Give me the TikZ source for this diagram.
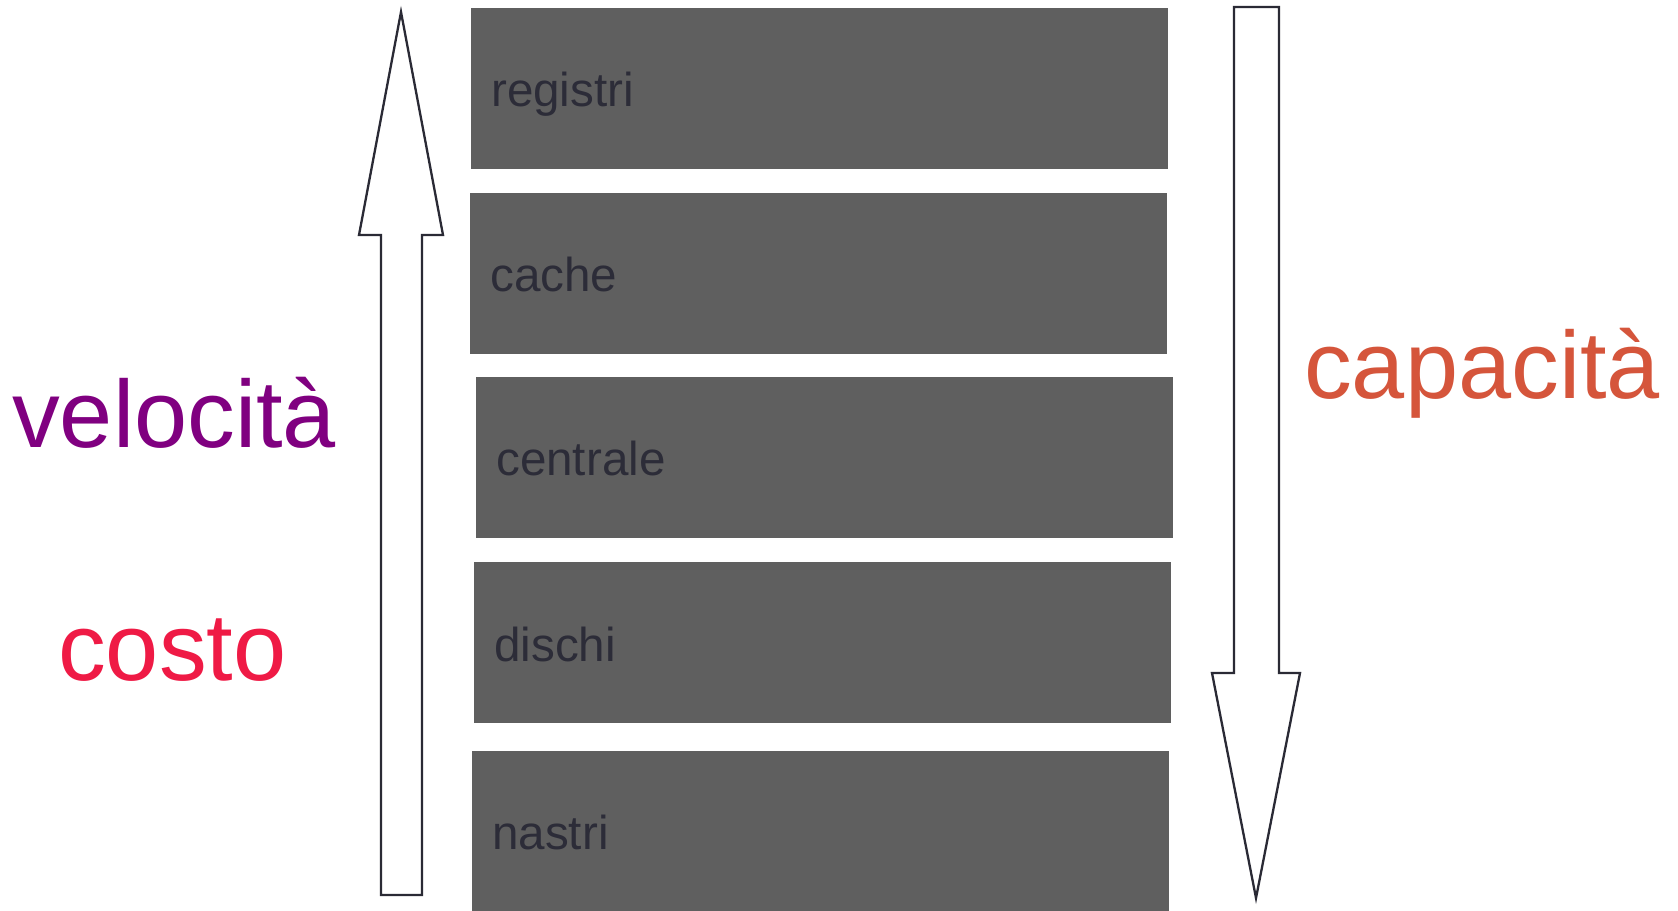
\documentclass[tikz,border=0pt]{standalone}
\usepackage{fontspec}
\setmainfont{Liberation Sans}
\usetikzlibrary{calc}
\definecolor{boxgray}{HTML}{5F5F5F}
\definecolor{boxtext}{HTML}{2C2C38}
\definecolor{arrowline}{HTML}{2A2A35}
\definecolor{velcol}{HTML}{800080}
\definecolor{costcol}{HTML}{EF1A45}
\definecolor{capcol}{HTML}{D5553B}
\tikzset{
  memblock/.style={fill=boxgray, draw=none, anchor=north west, inner sep=0pt,
    minimum width=697pt, minimum height=161pt},
  memlabel/.style={anchor=base west, inner sep=0pt, text=boxtext,
    font=\fontsize{47.6}{56}\selectfont},
  sidelabel/.style={anchor=base west, inner sep=0pt,
    font=\fontsize{95.5}{112}\selectfont},
  bigarrow/.style={draw=arrowline, line width=2.3pt, fill=white, line join=miter}
}
\begin{document}
\begin{tikzpicture}[x=1pt,y=-1pt]
\useasboundingbox (0,0) rectangle (1678,910);
\clip (0,0) rectangle (1678,910);
\fill[white] (0,0) rectangle (1678,910);
% memory blocks
\node[memblock] (reg) at (471,8) {};
\node[memblock] (cache) at (470,193) {};
\node[memblock] (cent) at (476,377) {};
\node[memblock] (disc) at (474,562) {};
\node[memblock, minimum height=170pt] (nast) at (472,751) {};
% labels
\node[memlabel] (lreg) at ($(reg.north west)+(20,98)$) {registri};
\node[memlabel] (lcache) at ($(cache.north west)+(20,98)$) {cache};
\node[memlabel] (lcent) at ($(cent.north west)+(20,98)$) {centrale};
\node[memlabel] (ldisc) at ($(disc.north west)+(20,99)$) {dischi};
\node[memlabel] (lnast) at ($(nast.north west)+(20,98)$) {nastri};
% up arrow
\draw[bigarrow] (401,12) -- (443,235) -- (422,235) -- (422,895) -- (381,895)
  -- (381,235) -- (359,235) -- cycle;
% down arrow
\draw[bigarrow] (1234,7) -- (1279,7) -- (1279,673) -- (1300,673) -- (1256,898)
  -- (1212,673) -- (1234,673) -- cycle;
% side labels
\node[sidelabel, text=velcol] (vel) at (12,447) {velocità};
\node[sidelabel, text=costcol] (cost) at (58,680) {costo};
\node[sidelabel, text=capcol] (cap) at (1304,398) {capacità};
\end{tikzpicture}
\end{document}
